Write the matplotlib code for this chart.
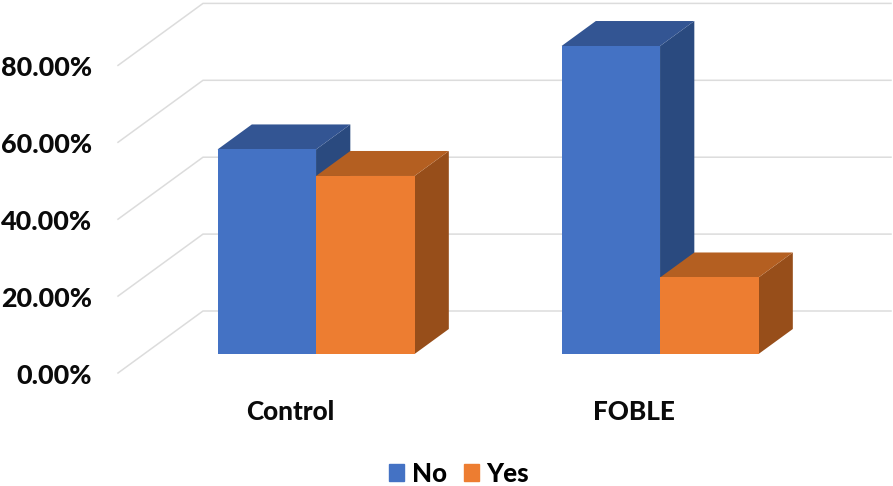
import matplotlib
matplotlib.use("Agg")
import matplotlib.pyplot as plt
from matplotlib.patches import Patch

categories = ["Control", "FOBLE"]
series_names = ["No", "Yes"]
no_values = [53.2, 80.1]
yes_values = [46.3, 19.9]
y_ticks = [0, 20, 40, 60, 80, 100]
y_tick_labels = ["0.00%", "20.00%", "40.00%", "60.00%", "80.00%"]

W, H = 893, 486
fig = plt.figure(figsize=(W / 100, H / 100), dpi=100)
ax = fig.add_axes([0, 0, 1, 1])
UX, X0 = 344.0, 290.0      # px per category, px of category 0
UY, Y0 = 3.845, 373.0      # px per percent, px of value 0
ax.set_xlim((0 - X0) / UX, (W - X0) / UX)
ax.set_ylim((Y0 - H) / UY, Y0 / UY)
ax.axis("off")

DX, DY = 85.0 / UX, 62.0 / UY   # full depth shift in data units
def proj(x, v, d):
    return x + DX * d, v + DY * d

FONT = "Lato"
WEIGHT = 900
# walls / gridlines
for t in y_ticks:
    x1, y1 = proj(-0.5, t, 0)
    x2, y2 = proj(-0.5, t, 1)
    x3, y3 = proj(1.5, t, 1)
    ax.plot([x1, x2, x3], [y1, y2, y2], color="#dcdcdc", lw=1.1, zorder=1, solid_joinstyle="miter")

BAR_W = 98.5 / UX
D_FRONT, D_BACK = 19.0 / 62.0, 44.0 / 62.0
STYLE = {
    "No": ("#4472C4", "#335593", "#2A4A7F"),
    "Yes": ("#ED7D31", "#B45F21", "#974E1A"),
}

def bar3d(x_left, value, cols, z):
    front, top, side = cols
    xl, xr = x_left, x_left + BAR_W
    P = proj
    ax.fill(*zip(P(xr, 0, D_FRONT), P(xr, 0, D_BACK), P(xr, value, D_BACK), P(xr, value, D_FRONT)),
            color=side, lw=0, zorder=z)
    ax.fill(*zip(P(xl, value, D_FRONT), P(xr, value, D_FRONT), P(xr, value, D_BACK), P(xl, value, D_BACK)),
            color=top, lw=0, zorder=z)
    ax.fill(*zip(P(xl, 0, D_FRONT), P(xr, 0, D_FRONT), P(xr, value, D_FRONT), P(xl, value, D_FRONT)),
            color=front, lw=0, zorder=z + 0.1)

for i, cat in enumerate(categories):
    bar3d(i - BAR_W, no_values[i], STYLE["No"], 3 + i)
    bar3d(i, yes_values[i], STYLE["Yes"], 3.5 + i)
    ax.text(i, (Y0 - 412) / UY, cat, ha="center", va="center",
            fontsize=18.8, fontweight=WEIGHT, family=FONT, color="#0a0a0a")

for t, lab in zip(y_ticks, y_tick_labels):
    ax.text((92 - X0) / UX, t - 2.5 / UY, lab, ha="right", va="center",
            fontsize=19.4, fontweight=WEIGHT, family=FONT, color="#0a0a0a")

handles = [Patch(color=STYLE[n][0], label=n) for n in series_names]
ax.legend(handles=handles, loc="center", bbox_to_anchor=(459 / W, 1 - 473.5 / H), ncol=2,
          frameon=False, handlelength=0.6, handleheight=0.6, handletextpad=0.28, columnspacing=0.66,
          borderpad=0, prop={"family": FONT, "weight": WEIGHT, "size": 18.6})

fig.savefig("out.png", dpi=100)
